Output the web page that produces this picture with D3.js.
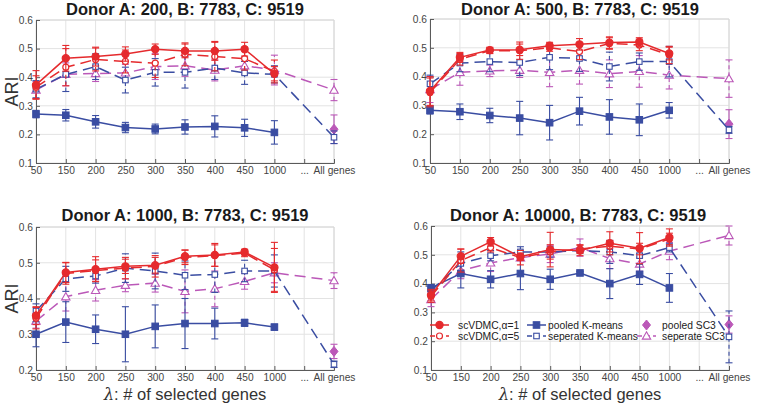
<!DOCTYPE html>
<html><head><meta charset="utf-8">
<script src="https://cdn.jsdelivr.net/npm/d3@7"></script>
<style>body{margin:0;background:#fff}svg{display:block;font-family:"Liberation Sans",Arial,Helvetica,sans-serif}</style>
</head><body><svg id="c" width="761" height="408"></svg>
<script>
const categories = ["50","150","200","250","300","350","400","450","1000","...","All genes"];
const titles = ["Donor A: 200, B: 7783, C: 9519","Donor A: 500, B: 7783, C: 9519","Donor A: 1000, B: 7783, C: 9519","Donor A: 10000, B: 7783, C: 9519"];
const seriesNames = ["scVDMC,\u03b1=1","scVDMC,\u03b1=5","pooled K-means","seperated K-means","pooled SC3","seperate SC3"];
const N = null;
// Panel 1 (A=200)
const p1_vdmc1 = [0.373,0.466,0.472,0.481,0.498,0.492,0.492,0.498,0.412,N,N];
const p1_vdmc1_sd = [0.05,0.045,0.033,0.025,0.018,0.024,0.033,0.024,0.025,N,N];
const p1_vdmc5 = [0.365,0.435,0.462,0.455,0.449,0.48,0.472,0.465,0.42,N,N];
const p1_vdmc5_sd = [0.04,0.065,0.04,0.04,0.05,0.04,0.05,0.04,0.04,N,N];
const p1_pkm = [0.271,0.267,0.244,0.224,0.219,0.226,0.228,0.223,0.207,N,N];
const p1_pkm_sd = [0.013,0.02,0.022,0.018,0.017,0.025,0.037,0.03,0.041,N,N];
const p1_skm = [0.358,0.41,0.437,0.39,0.417,0.417,0.432,0.415,0.41,N,0.19];
const p1_skm_sd = [0.03,0.06,0.045,0.045,0.048,0.055,0.04,0.04,0.03,N,0.022];
const p1_psc3 = [N,N,N,N,N,N,N,N,N,N,0.218];
const p1_psc3_sd = [N,N,N,N,N,N,N,N,N,N,0.05];
const p1_ssc3 = [0.355,0.41,0.413,0.415,0.437,0.44,0.425,0.44,0.425,N,0.355];
const p1_ssc3_sd = [0.03,0.04,0.028,0.03,0.045,0.037,0.038,0.03,0.052,N,0.037];
// Panel 2 (A=500)
const p2_vdmc1 = [0.35,0.467,0.492,0.493,0.507,0.512,0.518,0.52,0.48,N,N];
const p2_vdmc1_sd = [0.05,0.017,0.01,0.02,0.012,0.02,0.02,0.015,0.022,N,N];
const p2_vdmc5 = [0.345,0.46,0.49,0.49,0.50,0.487,0.515,0.51,0.475,N,N];
const p2_vdmc5_sd = [0.05,0.02,0.01,0.03,0.012,0.028,0.02,0.02,0.03,N,N];
const p2_pkm = [0.283,0.278,0.265,0.256,0.24,0.28,0.26,0.25,0.283,N,N];
const p2_pkm_sd = [0.013,0.027,0.025,0.058,0.06,0.048,0.06,0.055,0.027,N,N];
const p2_skm = [0.375,0.447,0.452,0.449,0.467,0.463,0.435,0.452,0.452,N,0.215];
const p2_skm_sd = [0.03,0.03,0.035,0.045,0.043,0.045,0.05,0.03,0.053,N,0.012];
const p2_psc3 = [N,N,N,N,N,N,N,N,N,N,0.235];
const p2_psc3_sd = [N,N,N,N,N,N,N,N,N,N,0.05];
const p2_ssc3 = [0.355,0.415,0.42,0.422,0.415,0.422,0.41,0.418,0.405,N,0.393];
const p2_ssc3_sd = [0.045,0.045,0.02,0.025,0.05,0.048,0.048,0.055,0.048,N,0.065];
// Panel 3 (A=1000)
const p3_vdmc1 = [0.352,0.473,0.482,0.49,0.493,0.518,0.522,0.53,0.487,N,N];
const p3_vdmc1_sd = [0.025,0.028,0.035,0.02,0.022,0.018,0.032,0.008,0.07,N,N];
const p3_vdmc5 = [0.345,0.47,0.478,0.485,0.49,0.515,0.52,0.527,0.48,N,N];
const p3_vdmc5_sd = [0.03,0.03,0.03,0.03,0.03,0.02,0.03,0.01,0.06,N,N];
const p3_pkm = [0.30,0.334,0.314,0.30,0.322,0.33,0.33,0.332,0.32,N,N];
const p3_pkm_sd = [0.035,0.057,0.04,0.077,0.06,0.07,0.043,0.01,0.008,N,N];
const p3_skm = [0.365,0.455,0.463,0.485,0.477,0.465,0.467,0.477,0.477,N,0.216];
const p3_skm_sd = [0.02,0.035,0.02,0.04,0.05,0.04,0.05,0.03,0.045,N,0.009];
const p3_psc3 = [N,N,N,N,N,N,N,N,N,N,0.252];
const p3_psc3_sd = [N,N,N,N,N,N,N,N,N,N,0.02];
const p3_ssc3 = [0.337,0.405,0.423,0.437,0.443,0.42,0.427,0.448,0.472,N,0.45];
const p3_ssc3_sd = [0.02,0.04,0.03,0.018,0.025,0.06,0.05,0.022,0.028,N,0.022];
// Panel 4 (A=10000)
const p4_vdmc1 = [0.36,0.495,0.545,0.493,0.518,0.515,0.54,0.523,0.56,N,N];
const p4_vdmc1_sd = [0.02,0.025,0.015,0.013,0.06,0.018,0.04,0.054,0.03,N,N];
const p4_vdmc5 = [0.355,0.48,0.525,0.49,0.51,0.52,0.53,0.52,0.555,N,N];
const p4_vdmc5_sd = [0.02,0.04,0.015,0.025,0.025,0.015,0.02,0.02,0.02,N,N];
const p4_pkm = [0.385,0.435,0.415,0.435,0.415,0.437,0.40,0.432,0.385,N,N];
const p4_pkm_sd = [0.012,0.05,0.03,0.056,0.035,0.005,0.052,0.035,0.05,N,N];
const p4_skm = [0.375,0.47,0.497,0.51,0.51,0.515,0.51,0.497,0.525,N,0.215];
const p4_skm_sd = [0.015,0.04,0.018,0.018,0.018,0.005,0.04,0.008,0.015,N,0.09];
const p4_psc3 = [N,N,N,N,N,N,N,N,N,N,0.258];
const p4_psc3_sd = [N,N,N,N,N,N,N,N,N,N,0.03];
const p4_ssc3 = [0.345,0.445,0.472,0.49,0.503,0.525,0.487,0.468,0.513,N,0.567];
const p4_ssc3_sd = [0.025,0.028,0.03,0.01,0.03,0.03,0.035,0.025,0.03,N,0.033];

const yTicksA = [0.1,0.2,0.3,0.4,0.5,0.6];
const yTicksB = [0.2,0.3,0.4,0.5,0.6];

const RED="#e52a2d", BLUE="#3a4da2", MAG="#bb58b8";
const styles = [
  {c:RED, dash:null, marker:"circle", fill:true},
  {c:RED, dash:"11,6", marker:"circle", fill:false},
  {c:BLUE, dash:null, marker:"square", fill:true},
  {c:BLUE, dash:"11,6", marker:"square", fill:false},
  {c:MAG, dash:null, marker:"diamond", fill:true},
  {c:MAG, dash:"11,6", marker:"triangle", fill:false}
];
const panels = [
  {x0:36,x1:334,y0:20,y1:163,yd:[0.1,0.6],yt:yTicksA,title:titles[0],tx:185,ty:15,ylab:true,xlab:false,
   s:[[p1_vdmc1,p1_vdmc1_sd],[p1_vdmc5,p1_vdmc5_sd],[p1_pkm,p1_pkm_sd],[p1_skm,p1_skm_sd],[p1_psc3,p1_psc3_sd],[p1_ssc3,p1_ssc3_sd]]},
  {x0:430,x1:729,y0:19,y1:163,yd:[0.1,0.6],yt:yTicksA,title:titles[1],tx:580,ty:15,ylab:false,xlab:false,
   s:[[p2_vdmc1,p2_vdmc1_sd],[p2_vdmc5,p2_vdmc5_sd],[p2_pkm,p2_pkm_sd],[p2_skm,p2_skm_sd],[p2_psc3,p2_psc3_sd],[p2_ssc3,p2_ssc3_sd]]},
  {x0:36,x1:334,y0:227,y1:370,yd:[0.2,0.6],yt:yTicksB,title:titles[2],tx:185,ty:221,ylab:true,xlab:true,
   s:[[p3_vdmc1,p3_vdmc1_sd],[p3_vdmc5,p3_vdmc5_sd],[p3_pkm,p3_pkm_sd],[p3_skm,p3_skm_sd],[p3_psc3,p3_psc3_sd],[p3_ssc3,p3_ssc3_sd]]},
  {x0:431,x1:729,y0:226,y1:370,yd:[0.1,0.6],yt:yTicksA,title:titles[3],tx:578,ty:221,ylab:false,xlab:true,legend:true,
   s:[[p4_vdmc1,p4_vdmc1_sd],[p4_vdmc5,p4_vdmc5_sd],[p4_pkm,p4_pkm_sd],[p4_skm,p4_skm_sd],[p4_psc3,p4_psc3_sd],[p4_ssc3,p4_ssc3_sd]]}
];

const svg = d3.select("#c");

function drawMarker(g, st, x, y) {
  const fill = st.fill ? st.c : "#fff";
  if (st.marker==="circle") {
    g.append("circle").attr("cx",x).attr("cy",y).attr("r", st.fill?3.6:3)
      .attr("fill",fill).attr("stroke",st.c).attr("stroke-width",1.2);
  } else if (st.marker==="square") {
    const s = st.fill?6.5:5.5;
    g.append("rect").attr("x",x-s/2).attr("y",y-s/2).attr("width",s).attr("height",s)
      .attr("fill",fill).attr("stroke",st.c).attr("stroke-width",1.1);
  } else if (st.marker==="diamond") {
    const s=5;
    g.append("path").attr("d",`M${x},${y-s}L${x+s*0.8},${y}L${x},${y+s}L${x-s*0.8},${y}Z`)
      .attr("fill",fill).attr("stroke",st.c).attr("stroke-width",1);
  } else {
    const s=4.2;
    g.append("path").attr("d",`M${x},${y-s}L${x+s},${y+s*0.75}L${x-s},${y+s*0.75}Z`)
      .attr("fill",fill).attr("stroke",st.c).attr("stroke-width",1.1);
  }
}

panels.forEach(p => {
  const x = d3.scalePoint().domain(categories).range([p.x0,p.x1]).padding(0);
  const y = d3.scaleLinear().domain(p.yd).range([p.y1,p.y0]);
  const g = svg.append("g");
  // grid
  g.append("g").selectAll("line").data(categories).join("line")
    .attr("x1",d=>x(d)).attr("x2",d=>x(d)).attr("y1",p.y0).attr("y2",p.y1)
    .attr("stroke","#e3e3e3").attr("stroke-width",1);
  g.append("g").selectAll("line").data(p.yt).join("line")
    .attr("x1",p.x0).attr("x2",p.x1).attr("y1",d=>y(d)).attr("y2",d=>y(d))
    .attr("stroke","#e3e3e3").attr("stroke-width",1);
  // box top/right
  g.append("path").attr("d",`M${p.x0},${p.y0}H${p.x1}V${p.y1}`).attr("fill","none").attr("stroke","#d6d6d6");
  // axes
  const ax = g.append("g").attr("transform",`translate(0,${p.y1})`)
    .call(d3.axisBottom(x).tickSize(-4).tickPadding(4));
  const ay = g.append("g").attr("transform",`translate(${p.x0},0)`)
    .call(d3.axisLeft(y).tickValues(p.yt).tickFormat(d3.format(".1f")).tickSize(-4).tickPadding(3));
  [ax,ay].forEach(a=>{
    a.select(".domain").attr("stroke","#5a5a5a");
    a.selectAll(".tick line").attr("stroke","#5a5a5a");
    a.selectAll("text").attr("fill","#444").style("font-size","10.2px").style("font-family","'Liberation Sans',Arial,sans-serif");
  });
  // series (draw magenta, blue, red order)
  const order = [5,4,3,2,1,0];
  order.forEach(si => {
    const st = styles[si];
    const vals = p.s[si][0], sds = p.s[si][1];
    const pts = categories.map((c,i)=>({c, v:vals[i], e:sds[i]})).filter(d=>d.v!==null);
    const sg = g.append("g");
    // error bars
    pts.forEach(d=>{
      const cx = x(d.c);
      const eb = sg.append("g").attr("stroke",st.c).attr("stroke-width",1.1).attr("fill","none");
      eb.append("line").attr("x1",cx).attr("x2",cx).attr("y1",y(d.v-d.e)).attr("y2",y(d.v+d.e))
        .attr("stroke-dasharray", st.dash? "4,3": null);
      [d.v-d.e,d.v+d.e].forEach(v=>{
        eb.append("line").attr("x1",cx-3.5).attr("x2",cx+3.5).attr("y1",y(v)).attr("y2",y(v));
      });
    });
    if (pts.length>1) {
      sg.append("path").datum(pts)
        .attr("d", d3.line().x(d=>x(d.c)).y(d=>y(d.v)))
        .attr("fill","none").attr("stroke",st.c).attr("stroke-width",1.5)
        .attr("stroke-dasharray",st.dash);
    }
    pts.forEach(d=>drawMarker(sg, st, x(d.c), y(d.v)));
  });
  // title
  svg.append("text").attr("x",p.tx).attr("y",p.ty).attr("text-anchor","middle")
    .style("font-size","16.5px").style("font-weight","bold").attr("fill","#1a1a1a").text(p.title);
  if (p.ylab) {
    svg.append("text").attr("transform",`translate(${p.x0-18},${(p.y0+p.y1)/2}) rotate(-90)`)
      .attr("text-anchor","middle").style("font-size","18px").attr("fill","#333").text("ARI");
  }
  if (p.xlab) {
    const t = svg.append("text").attr("x",(p.x0+p.x1)/2).attr("y",400).attr("text-anchor","middle")
      .style("font-size","16.5px").attr("fill","#333");
    t.append("tspan").style("font-family","'DejaVu Serif',serif").style("font-style","italic").text("\u03bb");
    t.append("tspan").text(": # of selected genes");
  }
  if (p.legend) {
    const lg = svg.append("g");
    const cols = [{lx:430, tx:458},{lx:527, tx:548},{lx:637, tx:662}];
    const rows = [325, 336];
    [[0,1],[2,3],[4,5]].forEach((pair,ci)=>{
      pair.forEach((si,ri)=>{
        const st = styles[si];
        const cy = rows[ri], c = cols[ci];
        if (si!==4) {
          lg.append("line").attr("x1",c.lx).attr("x2",c.lx+19).attr("y1",cy).attr("y2",cy)
            .attr("stroke",st.c).attr("stroke-width",1.5).attr("stroke-dasharray",st.dash?"5,3":null);
        }
        drawMarker(lg, st, c.lx+9.5, cy);
        lg.append("text").attr("x",c.tx).attr("y",cy+3.5).style("font-size","10.3px").attr("fill","#222").text(seriesNames[si]);
      });
    });
  }
});
</script></body></html>
